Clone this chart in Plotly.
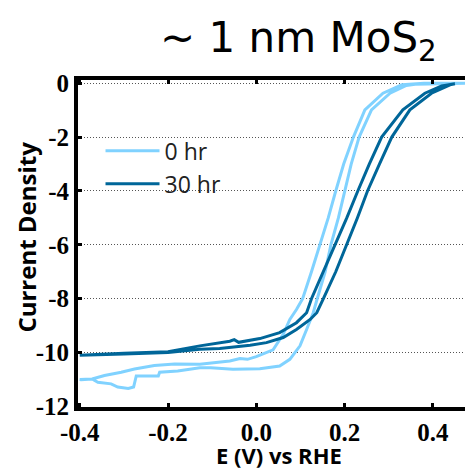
import plotly.graph_objects as go

# 0 hr sweep: down along right branch to -0.4 V, back along left branch
e_0hr = [0.49, 0.40, 0.36, 0.34, 0.303, 0.261, 0.233, 0.215, 0.201, 0.186, 0.169, 0.156,
         0.138, 0.129, 0.114, 0.099, 0.076, 0.053, 0.008, -0.053, -0.103, -0.128, -0.178,
         -0.219, -0.222, -0.272, -0.278, -0.290, -0.314, -0.329, -0.359, -0.372, -0.397,
         -0.40, -0.372, -0.344, -0.306, -0.276, -0.231, -0.185, -0.128, -0.06, -0.037,
         -0.02, 0.0, 0.038, 0.061, 0.076, 0.091, 0.105, 0.125, 0.144, 0.163, 0.180, 0.198,
         0.22, 0.246, 0.287, 0.33, 0.38, 0.49]
j_0hr = [0.0, -0.01, -0.04, -0.08, -0.37, -0.99, -2.0, -3.0, -4.0, -5.0, -6.0, -7.0,
         -8.0, -8.52, -9.14, -9.75, -10.25, -10.5, -10.6, -10.62, -10.56, -10.56, -10.68,
         -10.73, -10.87, -10.87, -11.28, -11.33, -11.28, -11.16, -11.1, -10.98, -11.01,
         -11.0, -10.98, -10.85, -10.73, -10.61, -10.48, -10.42, -10.43, -10.31, -10.22,
         -10.25, -10.15, -9.9, -9.32, -8.77, -8.4, -8.0, -7.0, -6.0, -5.0, -4.0, -3.0,
         -2.0, -0.99, -0.37, -0.06, 0.0, 0.0]

# 30 hr sweep
e_30hr = [0.45, 0.439, 0.42, 0.397, 0.348, 0.307, 0.279, 0.252, 0.229, 0.205, 0.18, 0.152,
          0.137, 0.122, 0.091, 0.061, 0.023, -0.014, -0.053, -0.083, -0.128, -0.2, -0.3,
          -0.4, -0.3, -0.2, -0.128, -0.083, -0.06, -0.05, -0.04, 0.008, 0.053, 0.091,
          0.114, 0.125, 0.152, 0.178, 0.205, 0.230, 0.256, 0.284, 0.332, 0.382, 0.42, 0.45]
j_30hr = [-0.02, -0.06, -0.2, -0.37, -0.99, -2.0, -3.0, -4.0, -5.0, -6.0, -7.0, -8.0,
          -8.52, -8.77, -9.14, -9.44, -9.63, -9.73, -9.81, -9.85, -9.88, -10.0, -10.05,
          -10.1, -10.02, -9.97, -9.75, -9.63, -9.58, -9.52, -9.62, -9.48, -9.26, -8.89,
          -8.52, -8.0, -7.0, -6.0, -5.0, -4.0, -3.0, -2.0, -0.99, -0.37, -0.1, -0.02]

series_names = ["0 hr", "30 hr"]
series_colors = ["#80d2ff", "#006699"]
x_ticks = [-0.4, -0.2, 0.0, 0.2, 0.4]
y_ticks = [0, -2, -4, -6, -8, -10, -12]

fig = go.Figure()
for name, xs, ys, col in zip(series_names, [e_0hr, e_30hr], [j_0hr, j_30hr], series_colors):
    fig.add_trace(go.Scatter(x=xs, y=ys, mode="lines", name=name,
                             line=dict(color=col, width=3)))

tick_font = dict(family="Liberation Serif, Times New Roman, serif", size=25,
                 color="black", weight="bold")
# the page body has an 8px margin, so the figure is 8px smaller than the window
fig.update_layout(
    width=465, height=461,
    margin=dict(l=70, r=0, t=72, b=62, autoexpand=False),
    plot_bgcolor="white", paper_bgcolor="white",
    showlegend=True,
    legend=dict(x=0.057, y=0.849, xanchor="left", yanchor="top",
                font=dict(family="Open Sans", size=23, color="#222"),
                bgcolor="rgba(0,0,0,0)", itemwidth=54),
    xaxis=dict(range=[-0.404, 0.491], tickvals=x_ticks, ticktext=[f"{v:.1f}" for v in x_ticks],
               showline=True, linewidth=4, linecolor="black", mirror="ticks",
               ticks="inside", ticklen=4, tickwidth=3, tickcolor="black",
               showgrid=False, zeroline=False, tickfont=tick_font),
    yaxis=dict(range=[-12.02, 0.12], tickvals=y_ticks, ticktext=[str(v) for v in y_ticks],
               showline=True, linewidth=4, linecolor="black",
               ticks="inside", ticklen=4, tickwidth=3, tickcolor="black",
               showgrid=True, gridcolor="#555", gridwidth=1, griddash="1px,2px",
               zeroline=False, tickfont=tick_font),
    annotations=[
        dict(text="~ 1 nm MoS<sub>2</sub>", xref="paper", yref="paper", x=0.558, y=1.12,
             xanchor="center", yanchor="middle", showarrow=False,
             font=dict(family="DejaVu Sans", size=42, color="black")),
        dict(text="E (V) vs RHE", xref="paper", yref="paper", x=0.509, y=-0.147,
             xanchor="center", yanchor="middle", showarrow=False,
             font=dict(family="Open Sans", size=22, color="black", weight="bold")),
        dict(text="Current Density", xref="paper", yref="paper", x=-0.13, y=0.52,
             xanchor="center", yanchor="middle", showarrow=False, textangle=-90,
             font=dict(family="Open Sans", size=24, color="black", weight="bold")),
    ],
)

fig.write_html("out.html")
